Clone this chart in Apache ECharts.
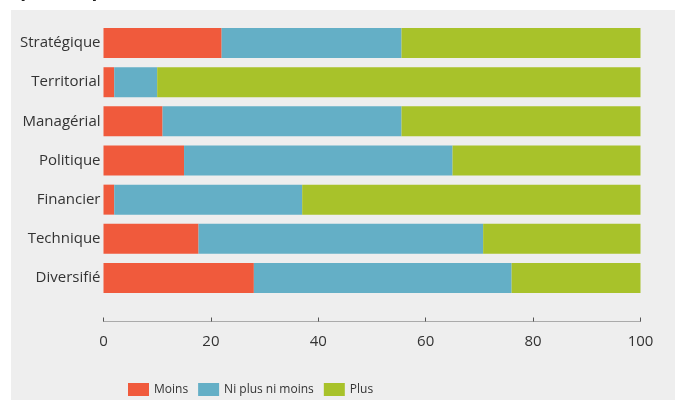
<!DOCTYPE html>
<html>
<head>
<meta charset="utf-8">
<script src="https://cdn.jsdelivr.net/npm/echarts@6/dist/echarts.min.js"></script>
<style>
  html, body { margin: 0; padding: 0; background: #fff; }
  #chart { width: 675px; height: 400px; }
</style>
</head>
<body>
<div id="chart"></div>
<script>
// categories top to bottom
const categories = ['Stratégique', 'Territorial', 'Managérial', 'Politique', 'Financier', 'Technique', 'Diversifié'];
const moins = [22, 2, 11, 15, 2, 17.7, 28];
const niPlusNiMoins = [33.5, 8, 44.5, 50, 35, 53, 48];
const plus = [44.5, 90, 44.5, 35, 63, 29.3, 24];
const xTicks = [0, 20, 40, 60, 80, 100];

const colors = { moins: '#f05a3c', ni: '#64afc6', plus: '#a8c22a' };
const font = '"Open Sans", sans-serif';

const chart = echarts.init(document.getElementById('chart'));

const barSeries = (name, data, color) => ({
  name,
  type: 'bar',
  stack: 'total',
  data,
  barWidth: 30,
  itemStyle: { color },
  emphasis: { disabled: true },
});

chart.setOption({
  animation: false,
  backgroundColor: '#ffffff',
  textStyle: { fontFamily: font },
  graphic: [
    {
      type: 'rect',
      z: -10,
      shape: { x: 11, y: 10, width: 664, height: 390 },
      style: { fill: '#eeeeee' },
    },
    {
      type: 'text',
      left: -6,
      top: -19,
      style: {
        text: '(réponses positives)',
        font: 'bold 19px ' + font,
        fill: '#222',
      },
    },
  ],
  grid: { left: 103.5, right: 34.5, top: 23.5, bottom: 102.5, containLabel: false },
  legend: {
    top: 378,
    left: 123,
    itemWidth: 21,
    itemHeight: 13,
    itemGap: 10,
    icon: 'rect',
    textStyle: { fontSize: 12, color: '#333', fontFamily: font },
    data: ['Moins', 'Ni plus ni moins', 'Plus'],
  },
  xAxis: {
    type: 'value',
    min: 0,
    max: 100,
    interval: 20,
    offset: 24,
    axisLine: { show: true, lineStyle: { color: '#aaaaaa', width: 1 } },
    axisTick: { show: true, inside: true, length: 4, lineStyle: { color: '#555' } },
    splitLine: { show: false },
    axisLabel: {
      color: '#333',
      fontSize: 15,
      margin: 13,
      formatter: v => (xTicks.includes(v) ? String(v) : ''),
    },
  },
  yAxis: {
    type: 'category',
    inverse: true,
    data: categories,
    axisLine: { show: false },
    axisTick: { show: false },
    axisLabel: { color: '#333', fontSize: 15, margin: 3 },
  },
  series: [
    barSeries('Moins', moins, colors.moins),
    barSeries('Ni plus ni moins', niPlusNiMoins, colors.ni),
    barSeries('Plus', plus, colors.plus),
  ],
});
</script>
</body>
</html>
